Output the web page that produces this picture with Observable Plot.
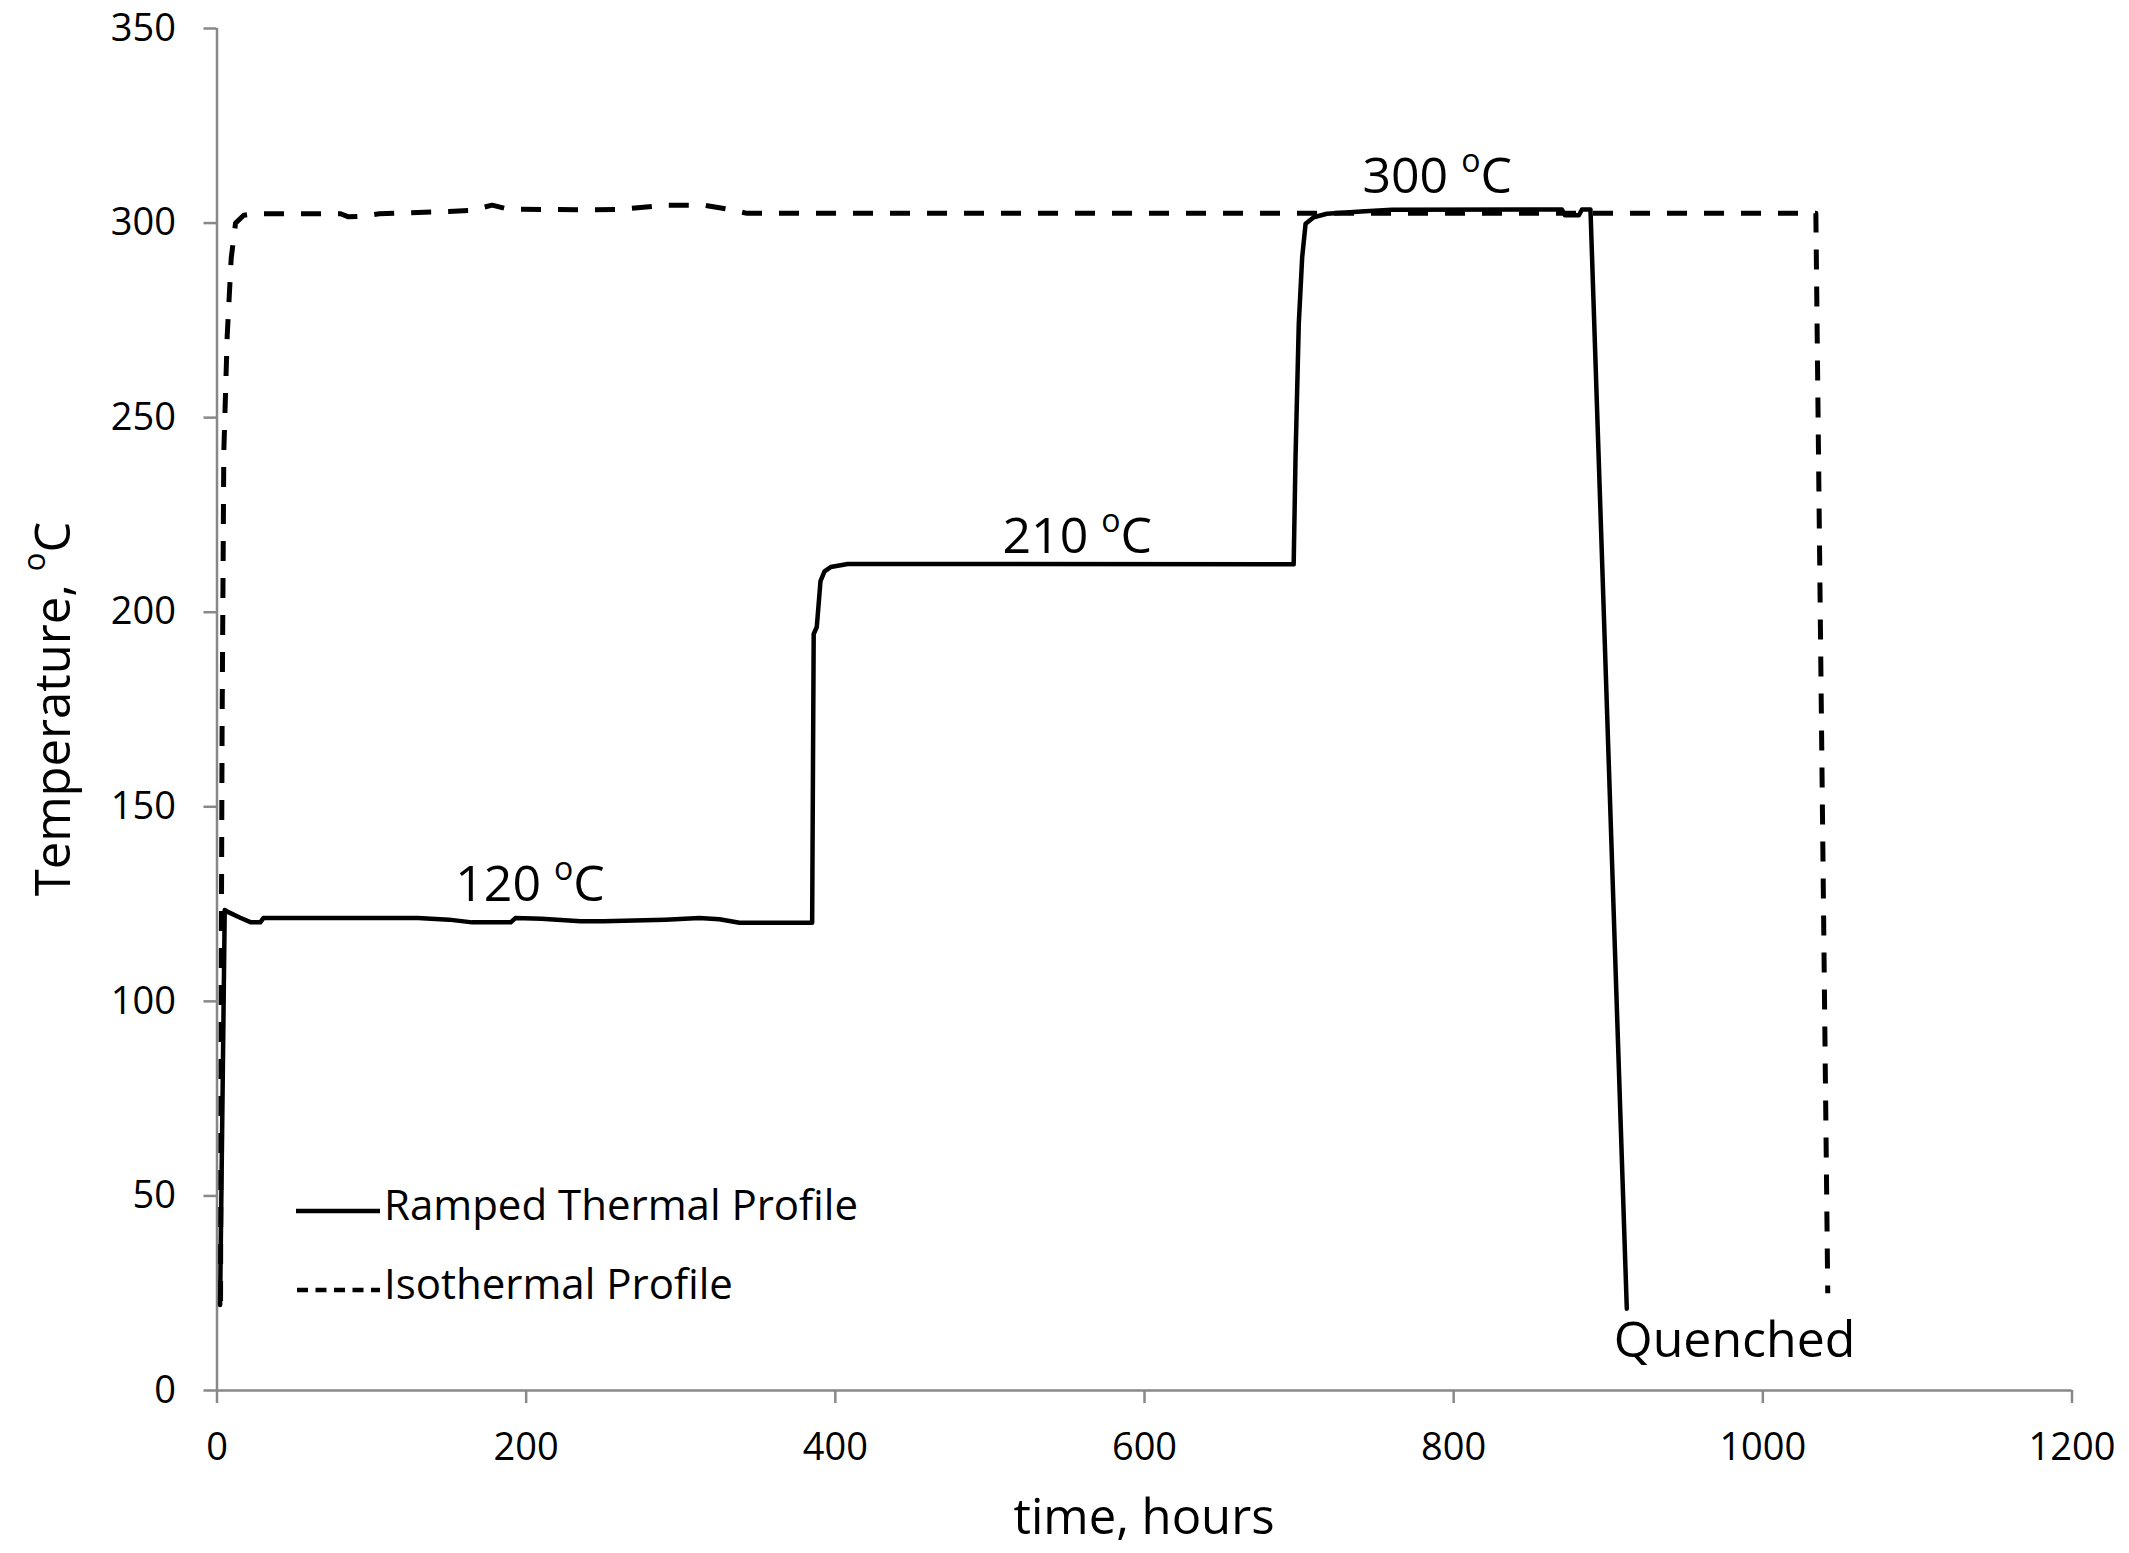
<!DOCTYPE html>
<html>
<head>
<meta charset="utf-8">
<script src="https://cdn.jsdelivr.net/npm/d3@7"></script>
<script src="https://cdn.jsdelivr.net/npm/@observablehq/plot@0.6"></script>
<style>
  html, body { margin: 0; padding: 0; background: #fff; }
  svg { display: block; }
</style>
</head>
<body>
<div id="chart"></div>
<script>
// ---- Data ----
const rampTime = [2, 5, 7, 15, 22, 28, 30, 60, 130, 150, 165, 190, 193, 210, 235, 250, 290, 312, 325, 338, 385,
  386, 388, 390.4, 393, 397, 408, 696.5, 697.7, 699.8, 702, 704.2, 709.5, 718, 740, 760, 870, 872, 881, 883, 888.5, 912];
const rampTemp = [22, 123.5, 123, 121.5, 120.3, 120.3, 121.4, 121.4, 121.4, 121, 120.3, 120.3, 121.4, 121.2, 120.6, 120.6, 121, 121.4, 121.1, 120.2, 120.2,
  194.4, 196.2, 208, 210.5, 211.6, 212.4, 212.3, 239.8, 274.1, 291.2, 299.8, 301.5, 302.4, 303, 303.4, 303.5, 302, 302, 303.5, 303.5, 21];

const isoTime = [2.3, 2.7, 3.3, 4.4, 6.6, 9.2, 12, 17.3, 24, 80, 85, 95, 105, 150, 165, 178, 188, 240, 260, 290, 315, 330, 343, 1034.3, 1042];
const isoTemp = [23, 101, 171, 241, 271, 291, 300, 302, 302.4, 302.4, 301.6, 301.8, 302.4, 303, 303.3, 304.6, 303.6, 303.4, 303.5, 304.6, 304.6, 303.6, 302.5, 302.5, 25];

const xTicks = [0, 200, 400, 600, 800, 1000, 1200];
const yTicks = [0, 50, 100, 150, 200, 250, 300, 350];

const annotLabel = ["120", "210", "300", "Quenched"];
const annotUnit = ["oC", "oC", "oC", ""];
const annotTime = [202.5, 556.5, 789.3, 981.7];
const annotTemp = [129.8, 219.4, 311.8, 12.8];

const seriesNames = ["Ramped Thermal Profile", "Isothermal Profile"];
const xTitle = "time, hours";
const yTitle = "Temperature, ";

// ---- Tables built from the arrays ----
const ramp = rampTime.map((t, i) => ({t, T: rampTemp[i]}));
const iso = isoTime.map((t, i) => ({t, T: isoTemp[i]}));
const annots = annotLabel.map((label, i) => ({label, unit: annotUnit[i], t: annotTime[i], T: annotTemp[i]}));

const W = 2129, H = 1553;
const FONT = "'Open Sans', 'Noto Sans', sans-serif";
const AXIS = "#888888";

const svg = Plot.plot({
  width: W,
  height: H,
  marginLeft: 216.5,
  marginRight: 57.5,
  marginTop: 28,
  marginBottom: 163,
  x: {domain: [0, 1200]},
  y: {domain: [0, 350]},
  style: {fontFamily: FONT, fontSize: "38px", color: "black", background: "white", overflow: "visible"},
  marks: [
    Plot.ruleY([0], {stroke: AXIS, strokeWidth: 2.5}),
    Plot.ruleX([0], {y1: 0, y2: 350, stroke: AXIS, strokeWidth: 2.5}),
    Plot.axisX({ticks: xTicks, tickSize: 13, tickPadding: 30, stroke: AXIS, strokeWidth: 2.5, fill: "black",
      fontSize: 38, label: null, tickFormat: d => String(d)}),
    Plot.axisY({ticks: yTicks, tickSize: 13, tickPadding: 28, stroke: AXIS, strokeWidth: 2.5, fill: "black",
      fontSize: 38, label: null, tickFormat: d => String(d)}),
    Plot.line(iso, {x: "t", y: "T", stroke: "black", strokeWidth: 5, strokeDasharray: "20,17",
      strokeLinejoin: "round", strokeLinecap: "butt"}),
    Plot.line(ramp, {x: "t", y: "T", stroke: "black", strokeWidth: 4.5, strokeLinejoin: "round", strokeLinecap: "round"}),
    Plot.text(annots, {x: "t", y: "T", text: d => d.label + "|" + d.unit, fontSize: 50, fill: "black", textAnchor: "middle"})
  ]
});

// superscript "o" on the degree annotations
d3.select(svg).selectAll("text").each(function() {
  const txt = this.textContent;
  if (!txt.includes("|")) return;
  const [label, unit] = txt.split("|");
  const el = d3.select(this);
  el.text(null);
  if (!unit) { el.text(label); return; }
  el.append("tspan").text(label + " ");
  el.append("tspan").attr("dy", -21).attr("font-size", 32).text(unit[0]);
  el.append("tspan").attr("dy", 21).text(unit.slice(1));
});

const s = d3.select(svg);

// axis titles
s.append("text")
  .attr("x", (216.5 + (W - 57.5)) / 2).attr("y", 1521)
  .attr("text-anchor", "middle").attr("dominant-baseline", "middle")
  .attr("font-family", FONT).attr("font-size", 49).attr("fill", "black")
  .text(xTitle);

const yt = s.append("text")
  .attr("transform", `translate(57,709) rotate(-90)`)
  .attr("text-anchor", "middle").attr("dominant-baseline", "middle")
  .attr("font-family", FONT).attr("font-size", 49).attr("fill", "black");
yt.append("tspan").text(yTitle);
yt.append("tspan").attr("dy", -20).attr("font-size", 31).text("o");
yt.append("tspan").attr("dy", 20).text("C");

// legend
const lg = s.append("g").attr("font-family", FONT).attr("font-size", 42).attr("fill", "black")
  .attr("text-anchor", "start");
lg.append("line").attr("x1", 296).attr("x2", 380).attr("y1", 1211).attr("y2", 1211)
  .attr("stroke", "black").attr("stroke-width", 4.5);
lg.append("line").attr("x1", 297).attr("x2", 380).attr("y1", 1290).attr("y2", 1290)
  .attr("stroke", "black").attr("stroke-width", 4.5).attr("stroke-dasharray", "11,7.5");
lg.append("text").attr("x", 384).attr("y", 1209).attr("text-anchor", "start").attr("dominant-baseline", "middle").text(seriesNames[0]);
lg.append("text").attr("x", 384).attr("y", 1288).attr("text-anchor", "start").attr("dominant-baseline", "middle").text(seriesNames[1]);

document.getElementById("chart").appendChild(svg);
</script>
</body>
</html>
